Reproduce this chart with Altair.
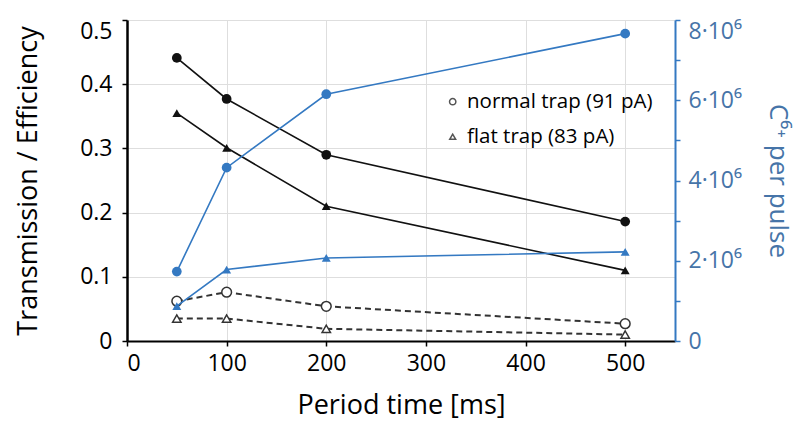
import altair as alt
import pandas as pd

period = [50, 100, 200, 500]
trans_normal = [0.441, 0.377, 0.290, 0.186]
trans_flat = [0.355, 0.301, 0.210, 0.110]
eff_normal = [0.062, 0.076, 0.054, 0.027]
eff_flat = [0.035, 0.035, 0.019, 0.010]
ions_normal = [1.73e6, 4.32e6, 6.15e6, 7.66e6]
ions_flat = [0.87e6, 1.78e6, 2.07e6, 2.22e6]

legend_labels = ["normal trap (91 pA)", "flat trap (83 pA)"]
x_ticks = [0, 100, 200, 300, 400, 500]
left_ticks = [0, 0.1, 0.2, 0.3, 0.4, 0.5]
right_ticks = [0, 1e6, 2e6, 3e6, 4e6, 5e6, 6e6, 7e6, 8e6]

FONT = "Open Sans"
BLUE = "#3479c2"
BLUE_TXT = "#4674a8"

x_enc = alt.X("period:Q",
              scale=alt.Scale(domain=[0, 550], nice=False),
              axis=alt.Axis(values=x_ticks, title="Period time [ms]", grid=True,
                            gridColor="#dedede", domainColor="black", domainWidth=2,
                            tickColor="black", tickSize=5, tickWidth=1.5,
                            labelFontSize=23, labelColor="black", labelPadding=6,
                            titleFontSize=27, titleFontWeight="normal", titleColor="black",
                            titlePadding=17, labelFont=FONT, titleFont=FONT))

y_left = alt.Y("value:Q",
               scale=alt.Scale(domain=[0, 0.5], nice=False),
               axis=alt.Axis(values=left_ticks, orient="left",
                             title="Transmission / Efficiency", grid=True,
                             gridColor="#dedede", domainColor="black", domainWidth=2.5,
                             tickColor="black", tickSize=5, tickWidth=1.5,
                             labelExpr="datum.value == 0 ? '0' : format(datum.value, '.1f')",
                             labelBaseline={"condition": {"test": "datum.value >= 0.5", "value": "top"}, "value": "middle"},
                             labelFontSize=23, labelColor="black", labelPadding=10,
                             titleFontSize=27, titleFontWeight="normal", titleColor="black",
                             titlePadding=37, labelFont=FONT, titleFont=FONT))

y_right = alt.Y("value:Q",
                scale=alt.Scale(domain=[0, 8e6], nice=False),
                axis=alt.Axis(values=right_ticks, orient="right",
                              title="C⁶⁺ per pulse", grid=False,
                              domainColor=BLUE, domainWidth=2,
                              tickColor=BLUE, tickSize=5, tickWidth=1.5,
                              labelExpr="datum.value == 0 ? '0' : (datum.value % 2000000 == 0 ? format(datum.value / 1000000, 'd') + '·10⁶' : '')",
                              labelBaseline={"condition": {"test": "datum.value >= 8000000", "value": "top"}, "value": "middle"},
                              labelFontSize=23, labelColor=BLUE_TXT, labelPadding=8,
                              titleFontSize=26, titleFontWeight="normal", titleColor=BLUE_TXT,
                              titlePadding=23, labelFont=FONT, titleFont=FONT))


def series(values, y_enc, color, shape, filled, dash=None, psize=95):
    df = pd.DataFrame({"period": period, "value": values})
    line_kwargs = dict(color=color, strokeWidth=1.6)
    if dash:
        line_kwargs["strokeDash"] = dash
        line_kwargs["strokeWidth"] = 2
    line = alt.Chart(df).mark_line(**line_kwargs).encode(x=x_enc, y=y_enc)
    if filled:
        pt = alt.Chart(df).mark_point(shape=shape, filled=True, color=color, size=psize, opacity=1)
    else:
        pt = alt.Chart(df).mark_point(shape=shape, filled=True, fill="white", stroke=color,
                                      strokeWidth=1.5, size=psize, opacity=1)
    pt = pt.encode(x=x_enc, y=y_enc)
    return [line, pt]


left_layers = []
left_layers += series(trans_normal, y_left, "#111111", "circle", True)
left_layers += series(trans_flat, y_left, "#111111", "triangle-up", True, psize=80)
left_layers += series(eff_normal, y_left, "#333333", "circle", False, dash=[6, 4])
left_layers += series(eff_flat, y_left, "#333333", "triangle-up", False, dash=[6, 4], psize=70)

# legend (annotation)
for i, (lab, shp) in enumerate(zip(legend_labels, ["circle", "triangle-up"])):
    d = alt.Data(values=[{"label": lab}])
    ypix = 81.7 + i * 35
    left_layers.append(
        alt.Chart(d).mark_point(shape=shp, filled=True, fill="white", stroke="#555555",
                                strokeWidth=1.5, size=40 if shp == "circle" else 35, opacity=1)
        .encode(x=alt.value(325.7), y=alt.value(ypix))
    )
    left_layers.append(
        alt.Chart(d).mark_text(align="left", baseline="middle", fontSize=20.5, font=FONT, color="black")
        .encode(x=alt.value(340), y=alt.value(ypix), text="label:N")
    )

right_layers = []
right_layers += series(ions_normal, y_right, BLUE, "circle", True)
right_layers += series(ions_flat, y_right, BLUE, "triangle-up", True, psize=80)

left = alt.layer(*left_layers)
right = alt.layer(*right_layers)

chart = (
    alt.layer(left, right)
    .resolve_scale(y="independent")
    .properties(width=548, height=321,
                autosize=alt.AutoSizeParams(type="none"),
                padding={"left": 119, "top": 12, "right": 123, "bottom": 83})
    .configure_view(stroke="black", strokeWidth=2)
    .configure(font=FONT)
)

chart.save("out.html", embed_options={"renderer": "svg", "actions": False})
